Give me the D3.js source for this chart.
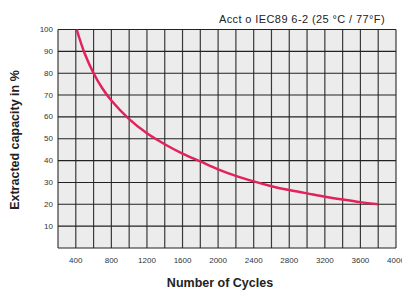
<!DOCTYPE html>
<html>
<head>
<meta charset="utf-8">
<script src="https://cdn.jsdelivr.net/npm/d3@7"></script>
<style>
  body { margin: 0; background: #fff; }
  svg { display: block; font-family: Arial, "Liberation Sans", sans-serif; }
</style>
</head>
<body>
<svg id="chart" width="402" height="291"></svg>
<script>
// curve
var cycles   = [410, 500, 600, 700, 800, 1000, 1200, 1400, 1600, 1800, 2000, 2200, 2400, 2600, 2800, 3000, 3200, 3400, 3600, 3800];
var capacity = [100, 89, 80, 73, 67.5, 59, 52.5, 47.5, 43.2, 39.6, 36, 33, 30.5, 28.3, 26.5, 25, 23.5, 22.2, 21, 20];

var xTicks = [400, 800, 1200, 1600, 2000, 2400, 2800, 3200, 3600, 4000];
var yTicks = [10, 20, 30, 40, 50, 60, 70, 80, 90, 100];

var title = 'Acct o IEC89  6-2 (25 \u00B0C / 77\u00B0F)';

var svg = d3.select('#chart');

// (window.top is reserved, so plot edges get their own names)
var pLeft = 58, pRight = 396, pTop = 29.5, pBottom = 248;

var x = d3.scaleLinear().domain([200, 4000]).range([pLeft, pRight]);
var y = d3.scaleLinear().domain([0, 100]).range([pBottom, pTop]);

// plot background
svg.append('rect')
    .attr('x', pLeft)
    .attr('y', pTop)
    .attr('width', pRight - pLeft)
    .attr('height', pBottom - pTop)
    .style('fill', '#ececec');

// grid
svg.append('g')
    .selectAll('line')
    .data(d3.range(200, 4001, 200))
    .join('line')
    .attr('x1', d => x(d))
    .attr('x2', d => x(d))
    .attr('y1', pTop)
    .attr('y2', pBottom)
    .style('stroke', '#3a3a3a')
    .style('stroke-width', 1.2);

svg.append('g')
    .selectAll('line')
    .data(d3.range(0, 101, 10))
    .join('line')
    .attr('x1', pLeft)
    .attr('x2', pRight)
    .attr('y1', d => y(d))
    .attr('y2', d => y(d))
    .style('stroke', '#222')
    .style('stroke-width', 1.1);

// tick labels
svg.append('g')
    .selectAll('text')
    .data(yTicks)
    .join('text')
    .attr('x', pLeft - 5)
    .attr('y', d => y(d))
    .attr('text-anchor', 'end')
    .attr('dominant-baseline', 'central')
    .style('font-size', '8px')
    .style('fill', '#333')
    .text(d => d);

svg.append('g')
    .selectAll('text')
    .data(xTicks)
    .join('text')
    .attr('x', d => x(d))
    .attr('y', 263)
    .attr('text-anchor', 'middle')
    .style('font-size', '8px')
    .style('fill', '#333')
    .text(d => d);

// curve
var line = d3.line()
    .x((d, i) => x(cycles[i]))
    .y(d => y(d))
    .curve(d3.curveCatmullRom);

svg.append('path')
    .datum(capacity)
    .attr('d', line)
    .style('fill', 'none')
    .style('stroke', '#e3215a')
    .style('stroke-width', 2.5);

// titles
svg.append('text')
    .attr('x', 385)
    .attr('y', 23)
    .attr('text-anchor', 'end')
    .style('font-size', '11px')
    .style('letter-spacing', '0.4px')
    .style('fill', '#222')
    .text(title);

svg.append('text')
    .attr('transform', 'translate(19,140) rotate(-90)')
    .attr('text-anchor', 'middle')
    .style('font-size', '12.5px')
    .style('font-weight', 'bold')
    .style('fill', '#222')
    .text('Extracted capacity in %');

svg.append('text')
    .attr('x', 220)
    .attr('y', 287)
    .attr('text-anchor', 'middle')
    .style('font-size', '12.5px')
    .style('font-weight', 'bold')
    .style('fill', '#222')
    .text('Number of Cycles');
</script>
</body>
</html>
